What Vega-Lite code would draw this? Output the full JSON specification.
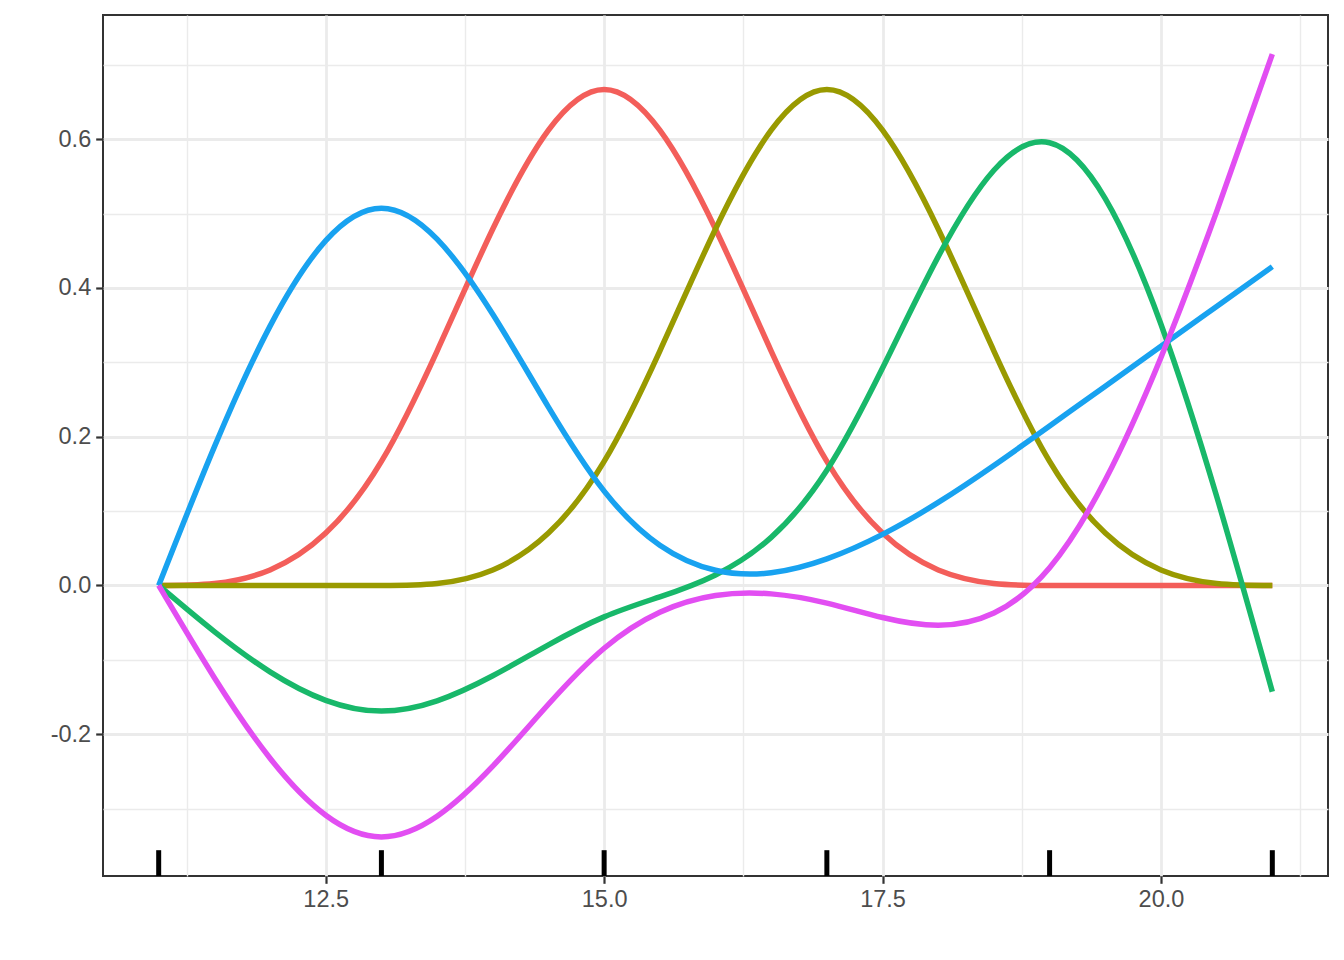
{
  "$schema": "https://vega.github.io/schema/vega-lite/v6.json",
  "width": 1225,
  "height": 861,
  "autosize": {"type": "none"},
  "padding": {"left": 103, "top": 15, "right": 16, "bottom": 84},
  "background": "white",
  "config": {
    "view": {"stroke": "#333333", "strokeWidth": 2},
    "axis": {
      "domain": false,
      "labelFont": "Liberation Sans",
      "labelFontSize": 23.5,
      "labelColor": "#4D4D4D",
      "tickColor": "#333333",
      "tickSize": 7.3,
      "tickWidth": 2.2,
      "gridColor": "#EBEBEB",
      "labelOverlap": false,
      "title": null
    }
  },
  "layer": [
    {
      "data": {
        "values": [
          {"x": 11, "s": "1", "y": 0}, {"x": 11, "s": "2", "y": 0}, {"x": 11, "s": "3", "y": 0}, {"x": 11, "s": "4", "y": 0}, {"x": 11, "s": "5", "y": 0},
          {"x": 11.5, "s": "1", "y": 0.0026}, {"x": 11.5, "s": "2", "y": 0}, {"x": 11.5, "s": "3", "y": -0.0621}, {"x": 11.5, "s": "4", "y": 0.1862}, {"x": 11.5, "s": "5", "y": -0.1241},
          {"x": 12, "s": "1", "y": 0.0208}, {"x": 12, "s": "2", "y": 0}, {"x": 12, "s": "3", "y": -0.1162}, {"x": 12, "s": "4", "y": 0.3486}, {"x": 12, "s": "5", "y": -0.2324},
          {"x": 12.5, "s": "1", "y": 0.0703}, {"x": 12.5, "s": "2", "y": 0}, {"x": 12.5, "s": "3", "y": -0.1545}, {"x": 12.5, "s": "4", "y": 0.4635}, {"x": 12.5, "s": "5", "y": -0.309},
          {"x": 13, "s": "1", "y": 0.1667}, {"x": 13, "s": "2", "y": 0}, {"x": 13, "s": "3", "y": -0.169}, {"x": 13, "s": "4", "y": 0.5071}, {"x": 13, "s": "5", "y": -0.3381},
          {"x": 13.5, "s": "1", "y": 0.3151}, {"x": 13.5, "s": "2", "y": 0.0026}, {"x": 13.5, "s": "3", "y": -0.1552}, {"x": 13.5, "s": "4", "y": 0.4655}, {"x": 13.5, "s": "5", "y": -0.3103},
          {"x": 14, "s": "1", "y": 0.4792}, {"x": 14, "s": "2", "y": 0.0208}, {"x": 14, "s": "3", "y": -0.1215}, {"x": 14, "s": "4", "y": 0.3645}, {"x": 14, "s": "5", "y": -0.243},
          {"x": 14.5, "s": "1", "y": 0.612}, {"x": 14.5, "s": "2", "y": 0.0703}, {"x": 14.5, "s": "3", "y": -0.0799}, {"x": 14.5, "s": "4", "y": 0.2397}, {"x": 14.5, "s": "5", "y": -0.1598},
          {"x": 15, "s": "1", "y": 0.6667}, {"x": 15, "s": "2", "y": 0.1667}, {"x": 15, "s": "3", "y": -0.0423}, {"x": 15, "s": "4", "y": 0.1268}, {"x": 15, "s": "5", "y": -0.0845},
          {"x": 15.5, "s": "1", "y": 0.612}, {"x": 15.5, "s": "2", "y": 0.3151}, {"x": 15.5, "s": "3", "y": -0.0154}, {"x": 15.5, "s": "4", "y": 0.054}, {"x": 15.5, "s": "5", "y": -0.036},
          {"x": 16, "s": "1", "y": 0.4792}, {"x": 16, "s": "2", "y": 0.4792}, {"x": 16, "s": "3", "y": 0.0141}, {"x": 16, "s": "4", "y": 0.0203}, {"x": 16, "s": "5", "y": -0.0135},
          {"x": 16.5, "s": "1", "y": 0.3151}, {"x": 16.5, "s": "2", "y": 0.612}, {"x": 16.5, "s": "3", "y": 0.0646}, {"x": 16.5, "s": "4", "y": 0.017}, {"x": 16.5, "s": "5", "y": -0.0114},
          {"x": 17, "s": "1", "y": 0.1667}, {"x": 17, "s": "2", "y": 0.6667}, {"x": 17, "s": "3", "y": 0.1548}, {"x": 17, "s": "4", "y": 0.0357}, {"x": 17, "s": "5", "y": -0.0238},
          {"x": 17.5, "s": "1", "y": 0.0703}, {"x": 17.5, "s": "2", "y": 0.612}, {"x": 17.5, "s": "3", "y": 0.2922}, {"x": 17.5, "s": "4", "y": 0.0686}, {"x": 17.5, "s": "5", "y": -0.0432},
          {"x": 18, "s": "1", "y": 0.0208}, {"x": 18, "s": "2", "y": 0.4792}, {"x": 18, "s": "3", "y": 0.442}, {"x": 18, "s": "4", "y": 0.1116}, {"x": 18, "s": "5", "y": -0.0536},
          {"x": 18.5, "s": "1", "y": 0.0026}, {"x": 18.5, "s": "2", "y": 0.3151}, {"x": 18.5, "s": "3", "y": 0.5582}, {"x": 18.5, "s": "4", "y": 0.1613}, {"x": 18.5, "s": "5", "y": -0.0372},
          {"x": 19, "s": "1", "y": 0}, {"x": 19, "s": "2", "y": 0.1667}, {"x": 19, "s": "3", "y": 0.5952}, {"x": 19, "s": "4", "y": 0.2143}, {"x": 19, "s": "5", "y": 0.0238},
          {"x": 19.5, "s": "1", "y": 0}, {"x": 19.5, "s": "2", "y": 0.0703}, {"x": 19.5, "s": "3", "y": 0.5201}, {"x": 19.5, "s": "4", "y": 0.2679}, {"x": 19.5, "s": "5", "y": 0.1417},
          {"x": 20, "s": "1", "y": 0}, {"x": 20, "s": "2", "y": 0.0208}, {"x": 20, "s": "3", "y": 0.3512}, {"x": 20, "s": "4", "y": 0.3214}, {"x": 20, "s": "5", "y": 0.3065},
          {"x": 20.5, "s": "1", "y": 0}, {"x": 20.5, "s": "2", "y": 0.0026}, {"x": 20.5, "s": "3", "y": 0.1198}, {"x": 20.5, "s": "4", "y": 0.375}, {"x": 20.5, "s": "5", "y": 0.5026},
          {"x": 21, "s": "1", "y": 0}, {"x": 21, "s": "2", "y": 0}, {"x": 21, "s": "3", "y": -0.1429}, {"x": 21, "s": "4", "y": 0.4286}, {"x": 21, "s": "5", "y": 0.7143}
        ]
      },
      "mark": {"type": "line", "interpolate": "natural", "strokeWidth": 5.5, "clip": true},
      "encoding": {
        "x": {
          "field": "x", "type": "quantitative", "title": null,
          "scale": {"domain": [10.5, 21.5], "nice": false, "zero": false},
          "axis": {
            "values": [11.25, 12.5, 13.75, 15, 16.25, 17.5, 18.75, 20, 21.25],
            "grid": true,
            "gridWidth": {"condition": {"test": "datum.value % 2.5 === 0", "value": 2.8}, "value": 1.4},
            "tickOpacity": {"condition": {"test": "datum.value % 2.5 === 0", "value": 1}, "value": 0},
            "labelExpr": "datum.value % 2.5 === 0 ? format(datum.value, '.1f') : ''",
            "labelPadding": 4
          }
        },
        "y": {
          "field": "y", "type": "quantitative", "title": null,
          "scale": {"domain": [-0.3907, 0.7669], "nice": false, "zero": false},
          "axis": {
            "values": [-0.3, -0.2, -0.1, 0, 0.1, 0.2, 0.3, 0.4, 0.5, 0.6, 0.7],
            "grid": true,
            "gridWidth": {"condition": {"test": "abs(round(datum.value * 10)) % 2 === 0", "value": 2.8}, "value": 1.4},
            "tickOpacity": {"condition": {"test": "abs(round(datum.value * 10)) % 2 === 0", "value": 1}, "value": 0},
            "labelExpr": "abs(round(datum.value * 10)) % 2 === 0 ? replace(format(datum.value, '.1f'), '\u2212', '-') : ''",
            "labelPadding": 5
          }
        },
        "color": {
          "field": "s", "type": "nominal", "legend": null,
          "scale": {"domain": ["1", "2", "3", "4", "5"], "range": ["#F35E5A", "#999A00", "#18B86A", "#18A2F0", "#E24EF2"]}
        }
      }
    },
    {
      "data": {
        "values": [
          {"x": 11, "y": -0.3907, "y2": -0.356},
          {"x": 13, "y": -0.3907, "y2": -0.356},
          {"x": 15, "y": -0.3907, "y2": -0.356},
          {"x": 17, "y": -0.3907, "y2": -0.356},
          {"x": 19, "y": -0.3907, "y2": -0.356},
          {"x": 21, "y": -0.3907, "y2": -0.356}
        ]
      },
      "mark": {"type": "rule", "strokeWidth": 5, "color": "black"},
      "encoding": {
        "x": {"field": "x", "type": "quantitative", "title": null},
        "y": {"field": "y", "type": "quantitative", "title": null},
        "y2": {"field": "y2"}
      }
    }
  ]
}
